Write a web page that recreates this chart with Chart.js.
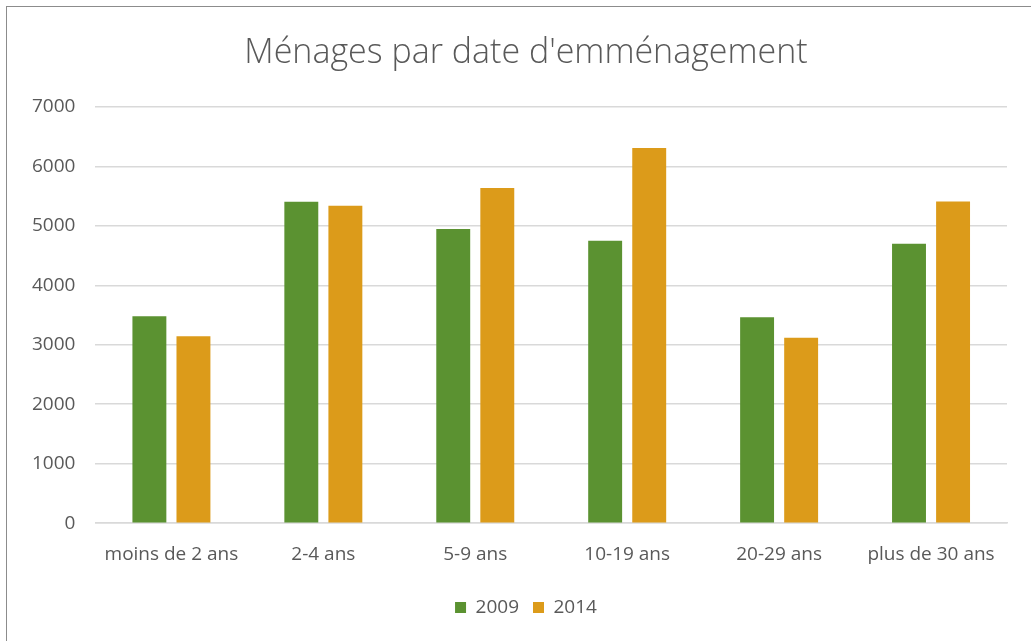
<!DOCTYPE html>
<html>
<head>
<meta charset="utf-8">
<script src="https://cdn.jsdelivr.net/npm/chart.js@4"></script>
<style>
  html, body { margin: 0; padding: 0; background: #fff; overflow: hidden; width: 1031px; height: 641px; }
  #frame { position: absolute; left: 6px; top: 6px; width: 1100px; height: 700px; border-left: 1px solid #8c8c8c; border-top: 1px solid #8c8c8c; }
  #wrap { position: absolute; left: 0; top: 0; width: 1052px; height: 641px; }
</style>
</head>
<body>
<div id="frame"></div>
<div id="wrap"><canvas id="barChart"></canvas></div>
<script>
const categories = ["moins de 2 ans", "2-4 ans", "5-9 ans", "10-19 ans", "20-29 ans", "plus de 30 ans"];
const values2009 = [3480, 5403, 4944, 4747, 3464, 4697];
const values2014 = [3144, 5335, 5633, 6306, 3116, 5408];
const yTicks = [0, 1000, 2000, 3000, 4000, 5000, 6000, 7000];

const FONT = "'Open Sans', sans-serif";
const TEXT = '#595959';

const CHART = document.getElementById("barChart");
let barChart = new Chart(CHART, {
    type: 'bar',
    data: {
        labels: categories,
        datasets: [{
            label: '2009',
            data: values2009,
            backgroundColor: '#5b9231',
            borderWidth: 0
        }, {
            label: '2014',
            data: values2014,
            backgroundColor: '#dc9b1a',
            borderWidth: 0
        }]
    },
    options: {
        responsive: true,
        maintainAspectRatio: false,
        animation: false,
        datasets: {
            bar: { categoryPercentage: 0.58, barPercentage: 0.77 }
        },
        layout: { padding: { left: 12, right: 12, top: 10, bottom: 14 } },
        plugins: {
            title: {
                display: true,
                text: "Ménages par date d'emménagement",
                color: TEXT,
                font: { family: FONT, size: 34, weight: '300' },
                padding: { top: 23, bottom: 33 }
            },
            legend: {
                position: 'bottom',
                labels: {
                    color: TEXT,
                    font: { family: FONT, size: 19 },
                    boxWidth: 11,
                    boxHeight: 11,
                    padding: 14
                }
            },
            tooltip: { enabled: false }
        },
        scales: {
            x: {
                grid: { display: false },
                border: { color: '#d9d9d9', width: 1.5 },
                ticks: { color: TEXT, font: { family: FONT, size: 19 }, maxRotation: 0, autoSkip: false, padding: 12 },
                afterFit: (scale) => { scale.height += 6; }
            },
            y: {
                min: 0,
                max: 7000,
                afterBuildTicks: (axis) => { axis.ticks = yTicks.map(v => ({ value: v })); },
                grid: { color: '#d9d9d9', lineWidth: 1.5, drawTicks: false },
                border: { display: false },
                ticks: { color: TEXT, font: { family: FONT, size: 19 }, padding: 20, callback: (v) => String(v) }
            },
            // empty right-hand space so the title centres where the reference has it
            spacer: {
                type: 'linear',
                position: 'right',
                min: 0,
                max: 1,
                grid: { display: false },
                border: { display: false },
                ticks: { display: false },
                afterFit: (scale) => { scale.width = 33; }
            }
        }
    }
});
</script>
</body>
</html>
